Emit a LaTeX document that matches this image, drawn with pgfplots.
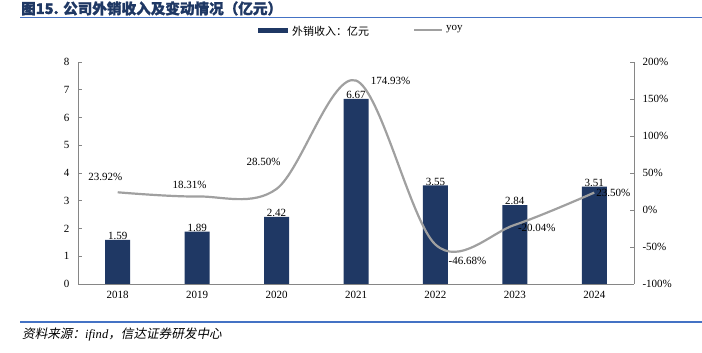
\documentclass[border=0pt]{standalone}
\usepackage{pgfplots}
\pgfplotsset{compat=1.18}
\usepackage{fontspec}
\setmainfont{Liberation Serif}
\newfontfamily\cjk{Noto Sans CJK SC}
\newfontfamily\cjkb[FakeBold=1.5]{Noto Sans CJK SC}
\newfontfamily\cjkit[FakeSlant=0.2]{Noto Sans CJK SC}
\definecolor{navy}{HTML}{1F3864}
\definecolor{ttl}{HTML}{1F3864}
\definecolor{rule}{HTML}{4472C4}
\definecolor{yoygray}{HTML}{A0A0A0}
\definecolor{axgray}{HTML}{868686}
\pgfplotstableread{
x val yoy
0 1.59 23.92
1 1.89 18.31
2 2.42 28.50
3 6.67 174.93
4 3.55 -46.68
5 2.84 -20.04
6 3.51 23.50
}\datatable
\begin{document}
\begin{tikzpicture}[x=1pt,y=1pt]
\path[use as bounding box] (0,0) rectangle (702,353);
% title
\node[anchor=base west, text=ttl, inner sep=0pt] at (21,339) {\fontsize{14.6}{16}\selectfont\bfseries\cjkb 图15. 公司外销收入及变动情况（亿元）};
\draw[rule, line width=1.2pt] (20,335.5) -- (702,335.5);
% source
\draw[rule, line width=1.2pt] (20,31) -- (702,31);
\node[anchor=base west, inner sep=0pt] at (22,14) {\fontsize{12.6}{14}\selectfont\cjkit 资料来源：\textit{\rmfamily ifind}，信达证券研发中心};
% legend
\fill[navy] (258,319.5) rectangle (288,324.5);
\node[anchor=west, inner sep=0pt] at (292,321.5) {\fontsize{11}{13}\selectfont\cjk 外销收入：亿元};
\draw[yoygray, line width=2pt] (414,322.5) -- (442,322.5);
\node[anchor=west, inner sep=0pt] at (446,323.5) {\fontsize{11}{13}\selectfont yoy};
\begin{axis}[
  at={(78pt,69pt)}, anchor=south west,
  width=556pt, height=222pt, scale only axis,
  xmin=-0.5, xmax=6.5, ymin=0, ymax=8,
  axis x line*=bottom, axis y line*=left,
  axis line style={axgray, line width=0.6pt},
  xtick=data, xticklabels={2018,2019,2020,2021,2022,2023,2024},
  x tick style={draw=none},
  ytick={0,1,...,8},
  y tick style={axgray, line width=0.6pt},
  tick align=inside, major tick length=4pt,
  tick label style={font=\fontsize{11}{13}\selectfont},
  /pgf/number format/assume math mode=true,
  xticklabel style={yshift=-4pt},
  yticklabel style={xshift=-5pt},
  clip=false,
]
\addplot[ybar, bar width=25pt, fill=navy, draw=none,
  nodes near coords, nodes near coords style={anchor=south, yshift=-3.5pt, font=\fontsize{11}{13}\selectfont, /pgf/number format/fixed, /pgf/number format/fixed zerofill, /pgf/number format/precision=2, /pgf/number format/assume math mode=true}]
  table[x=x, y=val] {\datatable};
\end{axis}
\begin{axis}[
  at={(78pt,69pt)}, anchor=south west,
  width=556pt, height=222pt, scale only axis,
  xmin=-0.5, xmax=6.5, ymin=-100, ymax=200,
  axis x line=none, axis y line*=right,
  axis line style={axgray, line width=0.6pt},
  ytick={-100,-50,0,50,100,150,200},
  y tick style={axgray, line width=0.6pt},
  tick align=inside, major tick length=4pt,
  yticklabel={\pgfmathprintnumber{\tick}\%},
  tick label style={font=\fontsize{11}{13}\selectfont},
  /pgf/number format/assume math mode=true,
  yticklabel style={xshift=5pt},
  clip=false,
]
\addplot[yoygray, line width=2.2pt, smooth, tension=0.55, mark=none] table[x=x, y=yoy] {\datatable};
\begin{scope}[font=\fontsize{11}{13}\selectfont]
\node at ([xshift=-12.5pt, yshift=15pt]axis cs:0,23.92) {23.92\%};
\node at ([xshift=-7.5pt, yshift=11.5pt]axis cs:1,18.31) {18.31\%};
\node at ([xshift=-13pt, yshift=27pt]axis cs:2,28.50) {28.50\%};
\node at ([xshift=34.5pt, yshift=0pt]axis cs:3,174.93) {174.93\%};
\node at ([xshift=32pt, yshift=-16.5pt]axis cs:4,-46.68) {-46.68\%};
\node at ([xshift=22pt, yshift=-3pt]axis cs:5,-20.04) {-20.04\%};
\node at ([xshift=19pt, yshift=0pt]axis cs:6,23.50) {23.50\%};
\end{scope}
\end{axis}
\end{tikzpicture}
\end{document}
